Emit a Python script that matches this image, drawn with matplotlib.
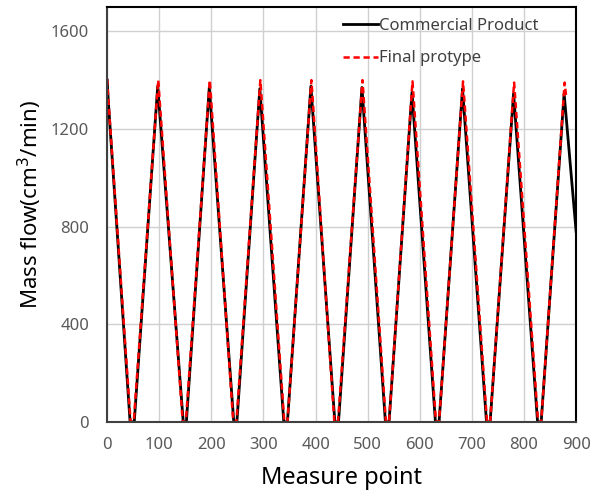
import matplotlib.pyplot as plt

# vertices (measure point, mass flow)
comm_x = [0, 2, 44, 52, 97, 146, 152, 196, 243, 249, 293, 339, 346, 391, 437, 444,
          489, 534, 541, 585, 630, 637, 682, 728, 735, 780, 826, 833, 877, 900]
comm_y = [1400, 1320, 0, 0, 1375, 0, 0, 1370, 0, 0, 1365, 0, 0, 1375, 0, 0,
          1370, 0, 0, 1350, 0, 0, 1365, 0, 0, 1345, 0, 0, 1345, 780]

proto_x = [0, 2, 45, 51, 98, 145, 151, 197, 242, 248, 294, 340, 346, 392, 436, 443,
           490, 535, 541, 586, 631, 637, 683, 729, 735, 781, 827, 833, 878, 881]
proto_y = [1405, 1330, 0, 0, 1400, 0, 0, 1400, 0, 0, 1400, 0, 0, 1400, 0, 0,
           1400, 0, 0, 1395, 0, 0, 1395, 0, 0, 1390, 0, 0, 1390, 1330]

xticks = [0, 100, 200, 300, 400, 500, 600, 700, 800, 900]
yticks = [0, 400, 800, 1200, 1600]

plt.rcParams['font.family'] = ['Noto Sans', 'DejaVu Sans']

fig = plt.figure(figsize=(6.02, 4.94), dpi=100)
ax = fig.add_axes([0.178, 0.146, 0.779, 0.840])

ax.plot(comm_x, comm_y, color='black', lw=2, label='Commercial Product')
ax.plot(proto_x, proto_y, color='red', lw=1.8, ls=(0, (2.5, 1.5)), label='Final protype')

ax.set_xlim(0, 900)
ax.set_ylim(0, 1700)
ax.set_xticks(xticks)
ax.set_yticks(yticks)
ax.grid(True, color='#d0d0d0', lw=1)
ax.set_axisbelow(True)
ax.tick_params(length=0, labelsize=12, labelcolor='#595959')
ax.tick_params(axis='y', pad=13)
ax.tick_params(axis='x', pad=11)
for s in ax.spines.values():
    s.set_color('black')
    s.set_linewidth(1.5)
ax.spines['left'].set_color('#404040')
ax.spines['bottom'].set_color('#404040')

ax.set_xlabel('Measure point', fontsize=17, labelpad=9)
ax.set_ylabel('Mass flow(cm$^3$/min)', fontsize=16)
ax.yaxis.set_label_coords(-0.135, 0.523)

leg = ax.legend(loc='upper left', frameon=False, fontsize=12, handlelength=2.1,
                handletextpad=0.05, labelspacing=1.0, borderaxespad=0,
                bbox_to_anchor=(0.489, 0.99))
for t in leg.get_texts():
    t.set_color('#404040')

fig.savefig('out.png', dpi=100)
